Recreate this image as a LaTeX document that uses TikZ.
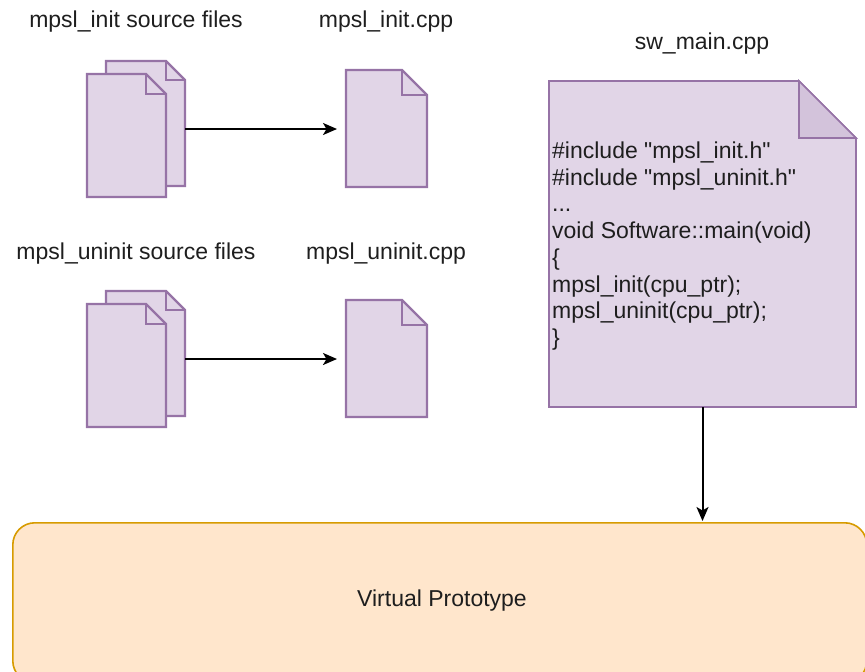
\documentclass[tikz,border=0pt]{standalone}
\usepackage{fontspec}
\setmainfont{Liberation Sans}[Ligatures=TeXOff]
\usetikzlibrary{arrows.meta}

\definecolor{docfill}{HTML}{E1D5E7}
\definecolor{docline}{HTML}{9673A6}
\definecolor{foldfill}{HTML}{D3C3DB}
\definecolor{vpfill}{HTML}{FFE6CC}
\definecolor{vpline}{HTML}{D79B00}
\definecolor{ink}{HTML}{1E1E1E}

\tikzset{
  label text/.style={font=\fontsize{23}{26.7}\selectfont, text=ink, inner sep=0pt},
  page/.style={draw=none, inner sep=0pt, outer sep=0pt},
  page edge/.style={draw=docline, fill=docfill, line width=2.4pt, line join=miter},
  note edge/.style={draw=docline, fill=docfill, line width=1.6pt, line join=miter},
  flow/.style={draw=black, line width=2pt, -{Stealth[length=14pt,width=12pt,inset=3.5pt]}},
  vpbox/.style={draw=vpline, fill=vpfill, line width=1.6pt, rounded corners=22pt},
}

% dog-eared page outline around a named node: #1 node, #2 fold size, #3 style
\newcommand{\dogpage}[3]{%
  \path[#3] (#1.north west) -- ([xshift=-#2]#1.north east)
    -- ([yshift=-#2]#1.north east) -- (#1.south east)
    -- (#1.south west) -- cycle;
  \draw[#3, fill=none] ([xshift=-#2]#1.north east)
    -- ([xshift=-#2,yshift=-#2]#1.north east) -- ([yshift=-#2]#1.north east);
}

\begin{document}
\begin{tikzpicture}[x=1pt, y=-1pt]
  \useasboundingbox (0,0) rectangle (865,672);
  \clip (0,0) rectangle (865,672);

  % headings
  \node[label text] (hInitSrc)   at (136,22)  {mpsl\_init source files};
  \node[label text] (hInitCpp)   at (386,22)  {mpsl\_init.cpp};
  \node[label text] (hMain)      at (702,44)  {sw\_main.cpp};
  \node[label text] (hUninitSrc) at (136,254) {mpsl\_uninit source files};
  \node[label text] (hUninitCpp) at (386,254) {mpsl\_uninit.cpp};

  % stacked source pages, init (group frame plus two pages)
  \node[page, minimum width=98, minimum height=136] (initSrc) at (136,129) {};
  \node[page, minimum width=79, minimum height=125, anchor=north east] (initBack)  at (initSrc.north east) {};
  \node[page, minimum width=79, minimum height=123, anchor=south west] (initFront) at (initSrc.south west) {};
  \dogpage{initBack}{19}{page edge}
  \dogpage{initFront}{20}{page edge}

  % stacked source pages, uninit
  \node[page, minimum width=98, minimum height=136] (uninitSrc) at (136,359) {};
  \node[page, minimum width=79, minimum height=125, anchor=north east] (uninitBack)  at (uninitSrc.north east) {};
  \node[page, minimum width=79, minimum height=123, anchor=south west] (uninitFront) at (uninitSrc.south west) {};
  \dogpage{uninitBack}{19}{page edge}
  \dogpage{uninitFront}{20}{page edge}

  % merged single pages
  \node[page, minimum width=81, minimum height=117] (initCpp)   at (386.5,128.5) {};
  \node[page, minimum width=81, minimum height=117] (uninitCpp) at (386.5,358.5) {};
  \dogpage{initCpp}{25}{page edge}
  \dogpage{uninitCpp}{25}{page edge}

  % main program page with its code
  \node[page, minimum width=307, minimum height=326] (mainCpp) at (702.5,244) {};
  \path[note edge] (mainCpp.north west) -- ([xshift=-57]mainCpp.north east)
    -- ([yshift=-57]mainCpp.north east) -- (mainCpp.south east)
    -- (mainCpp.south west) -- cycle;
  \path[note edge, fill=foldfill] ([xshift=-57]mainCpp.north east)
    -- ([xshift=-57,yshift=-57]mainCpp.north east)
    -- ([yshift=-57]mainCpp.north east) -- cycle;
  \node[label text, anchor=west, align=left] (code) at (552,246)
    {\#include "mpsl\_init.h"\\
     \#include "mpsl\_uninit.h"\\
     ...\\
     void Software::main(void)\\
     \{\\
     mpsl\_init(cpu\_ptr);\\
     mpsl\_uninit(cpu\_ptr);\\
     \}};

  % virtual prototype block
  \node[vpbox, minimum width=854, minimum height=160, anchor=north west] (vp) at (12,522) {};
  \node[label text] (vpText) at (442,601) {Virtual Prototype};

  % connectors
  \draw[flow, shorten >=9pt] (initSrc.east)   -- (initSrc.east -| initCpp.west);
  \draw[flow, shorten >=9pt] (uninitSrc.east) -- (uninitSrc.east -| uninitCpp.west);
  \draw[flow, shorten >=1pt] (mainCpp.south)  -- (mainCpp.south |- vp.north);
\end{tikzpicture}
\end{document}
